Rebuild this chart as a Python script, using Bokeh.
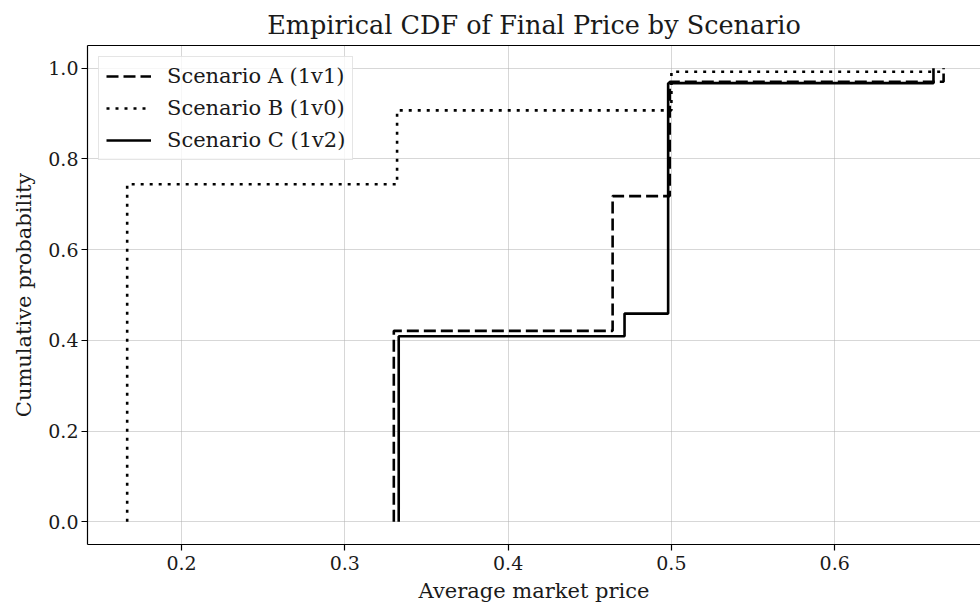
from bokeh.plotting import figure
from bokeh.models import Range1d, LinearAxis, Legend, LegendItem, FixedTicker, PrintfTickFormatter
from bokeh.embed import file_html
from bokeh.resources import INLINE

# ECDF step points (x = price where step occurs, y = cumulative probability after step)
a_x = [0.330, 0.330, 0.464, 0.499, 0.6667]
a_y = [0.0, 0.421, 0.718, 0.970, 1.0]
b_x = [0.1667, 0.1667, 0.332, 0.500, 0.6667]
b_y = [0.0, 0.744, 0.907, 0.992, 1.0]
c_x = [0.3330, 0.3330, 0.4713, 0.498, 0.6605]
c_y = [0.0, 0.409, 0.459, 0.967, 1.0]

x_ticks = [0.2, 0.3, 0.4, 0.5, 0.6]
y_ticks = [0.0, 0.2, 0.4, 0.6, 0.8, 1.0]

FONT = "DejaVu Serif"
TXT = "#1a1a1a"

p = figure(width=980, height=606, output_backend="svg", toolbar_location=None,
           x_range=Range1d(0.1424, 0.6893), y_range=Range1d(-0.05, 1.05),
           min_border_left=87, min_border_right=0, min_border_bottom=62, min_border_top=45,
           title="Empirical CDF of Final Price by Scenario")
p.outline_line_color = None
p.background_fill_color = "white"
p.border_fill_color = "white"

p.title.align = "center"
p.title.text_font = FONT
p.title.text_font_size = "25.5px"
p.title.text_font_style = "normal"
p.title.text_color = TXT
p.title.standoff = 4

for ax in (p.xaxis[0], p.yaxis[0]):
    ax.axis_line_color = "black"
    ax.axis_line_width = 1.2
    ax.major_tick_line_color = "black"
    ax.major_tick_line_width = 1.2
    ax.major_tick_out = 6
    ax.major_tick_in = 0
    ax.minor_tick_line_color = None
    ax.major_label_text_font = FONT
    ax.major_label_text_font_size = "19px"
    ax.major_label_text_color = TXT
    ax.axis_label_text_font = FONT
    ax.axis_label_text_font_size = "21px"
    ax.axis_label_text_font_style = "normal"
    ax.axis_label_text_color = TXT
    ax.formatter = PrintfTickFormatter(format="%.1f")

p.xaxis[0].ticker = FixedTicker(ticks=x_ticks)
p.yaxis[0].ticker = FixedTicker(ticks=y_ticks)
p.xaxis[0].axis_label = "Average market price"
p.yaxis[0].axis_label = "Cumulative probability"
p.xaxis[0].major_label_standoff = 5
p.xaxis[0].axis_label_standoff = 6
p.yaxis[0].major_label_standoff = 3
p.yaxis[0].axis_label_standoff = 9

top = LinearAxis(axis_line_color="black", axis_line_width=1.2, major_tick_line_color=None,
                 major_tick_out=0, major_label_standoff=0,
                 minor_tick_line_color=None, major_label_text_font_size="0px")
p.add_layout(top, "above")

p.grid.grid_line_color = "#b0b0b0"
p.grid.grid_line_alpha = 0.5
p.xgrid.ticker = FixedTicker(ticks=x_ticks)
p.ygrid.ticker = FixedTicker(ticks=y_ticks)

ra = p.step(a_x, a_y, mode="after", line_color="black", line_width=2.6, line_dash="12 5")
rb = p.step(b_x, b_y, mode="after", line_color="black", line_width=2.6, line_dash="3 6")
rc = p.step(c_x, c_y, mode="after", line_color="black", line_width=2.6)

legend = Legend(items=[
    LegendItem(label="Scenario A (1v1)", renderers=[ra]),
    LegendItem(label="Scenario B (1v0)", renderers=[rb]),
    LegendItem(label="Scenario C (1v2)", renderers=[rc]),
], location="top_left")
legend.margin = 11
legend.padding = 7
legend.spacing = 8
legend.glyph_width = 45
legend.glyph_height = 24
legend.label_height = 24
legend.label_standoff = 16
legend.label_text_font = FONT
legend.label_text_font_size = "21px"
legend.label_text_color = TXT
legend.border_line_color = "#cccccc"
legend.border_line_width = 1
legend.background_fill_alpha = 0.8
p.add_layout(legend)

open("out.html", "w").write(file_html(p, INLINE))
